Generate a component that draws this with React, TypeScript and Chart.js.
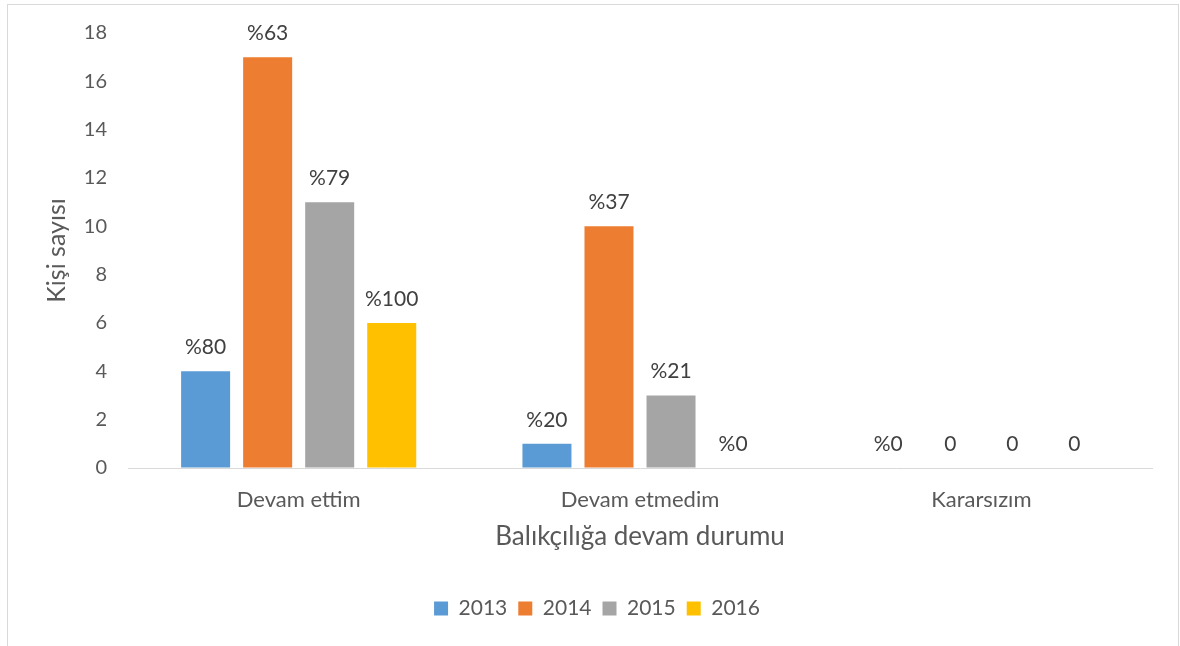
import React, { useEffect, useRef } from "react";
import { Chart, registerables } from "chart.js";

Chart.register(...registerables);

const categories = ["Devam ettim", "Devam etmedim", "Kararsızım"];
const seriesNames = ["2013", "2014", "2015", "2016"];
const values2013 = [4, 1, 0];
const values2014 = [17, 10, 0];
const values2015 = [11, 3, 0];
const values2016 = [6, 0, 0];
const labels2013 = ["%80", "%20", "%0"];
const labels2014 = ["%63", "%37", "0"];
const labels2015 = ["%79", "%21", "0"];
const labels2016 = ["%100", "%0", "0"];
const colors = ["#5B9BD5", "#ED7D31", "#A5A5A5", "#FFC000"];

const FONT = "Lato, 'Open Sans', sans-serif";

const allLabels = [labels2013, labels2014, labels2015, labels2016];

const dataLabelPlugin = {
  id: "dataLabelPlugin",
  afterDatasetsDraw(chart: any) {
    const ctx = chart.ctx;
    ctx.save();
    ctx.font = `21px ${FONT}`;
    ctx.fillStyle = "#404040";
    ctx.textAlign = "center";
    ctx.textBaseline = "middle";
    chart.data.datasets.forEach((ds: any, i: number) => {
      const meta = chart.getDatasetMeta(i);
      meta.data.forEach((el: any, j: number) => {
        const txt = allLabels[i][j];
        ctx.fillText(txt, el.x, el.y - 24);
      });
    });
    ctx.restore();
  },
};

export default function App() {
  const ref = useRef<HTMLCanvasElement>(null);
  useEffect(() => {
    if (!ref.current) return;
    const chart = new Chart(ref.current, {
      type: "bar",
      data: {
        labels: categories,
        datasets: [values2013, values2014, values2015, values2016].map((v, i) => ({
          label: seriesNames[i],
          data: v,
          backgroundColor: colors[i],
          borderWidth: 0,
          barPercentage: 0.79,
          categoryPercentage: 0.727,
        })),
      },
      plugins: [dataLabelPlugin],
      options: {
        animation: false,
        responsive: true,
        maintainAspectRatio: false,
        layout: { padding: { top: 28, right: 20, left: 34, bottom: 17 } },
        plugins: {
          tooltip: { enabled: false },
          legend: {
            position: "bottom",
            labels: {
              boxWidth: 14,
              boxHeight: 14,
              padding: 11,
              color: "#595959",
              font: { family: FONT, size: 21 },
            },
          },
        },
        scales: {
          x: {
            grid: { display: false, drawTicks: false },
            border: { display: true, color: "#d9d9d9", width: 1 },
            ticks: {
              color: "#595959",
              font: { family: FONT, size: 22 },
              padding: 19,
            },
            title: {
              display: true,
              text: "Balıkçılığa devam durumu",
              color: "#595959",
              font: { family: FONT, size: 26 },
              padding: { top: 0, bottom: 35 },
            },
            afterFit(scale: any) {
              scale.height = 119;
            },
          },
          y: {
            min: 0,
            max: 18,
            grid: {
              display: true,
              drawOnChartArea: false,
              drawTicks: true,
              tickLength: 5,
              color: "rgba(0,0,0,0)",
              tickColor: "rgba(0,0,0,0)",
            },
            border: { display: false },
            ticks: {
              stepSize: 2,
              color: "#595959",
              font: { family: FONT, size: 20 },
              padding: 16,
            },
            title: {
              display: true,
              text: "Kişi sayısı",
              color: "#595959",
              font: { family: FONT, size: 25 },
              padding: 0,
            },
            afterFit(scale: any) {
              scale.width = 86;
            },
          },
        },
      },
    });
    return () => chart.destroy();
  }, []);
  return (
    <div
      style={{
        position: "absolute",
        left: 7,
        top: 4,
        width: 1172,
        height: 660,
        border: "1px solid #d9d9d9",
        boxSizing: "border-box",
        background: "#fff",
        overflow: "hidden",
      }}
    >
      <div style={{ position: "absolute", left: 0, top: 0, width: 1164, height: 641 }}>
        <canvas ref={ref} />
      </div>
    </div>
  );
}
